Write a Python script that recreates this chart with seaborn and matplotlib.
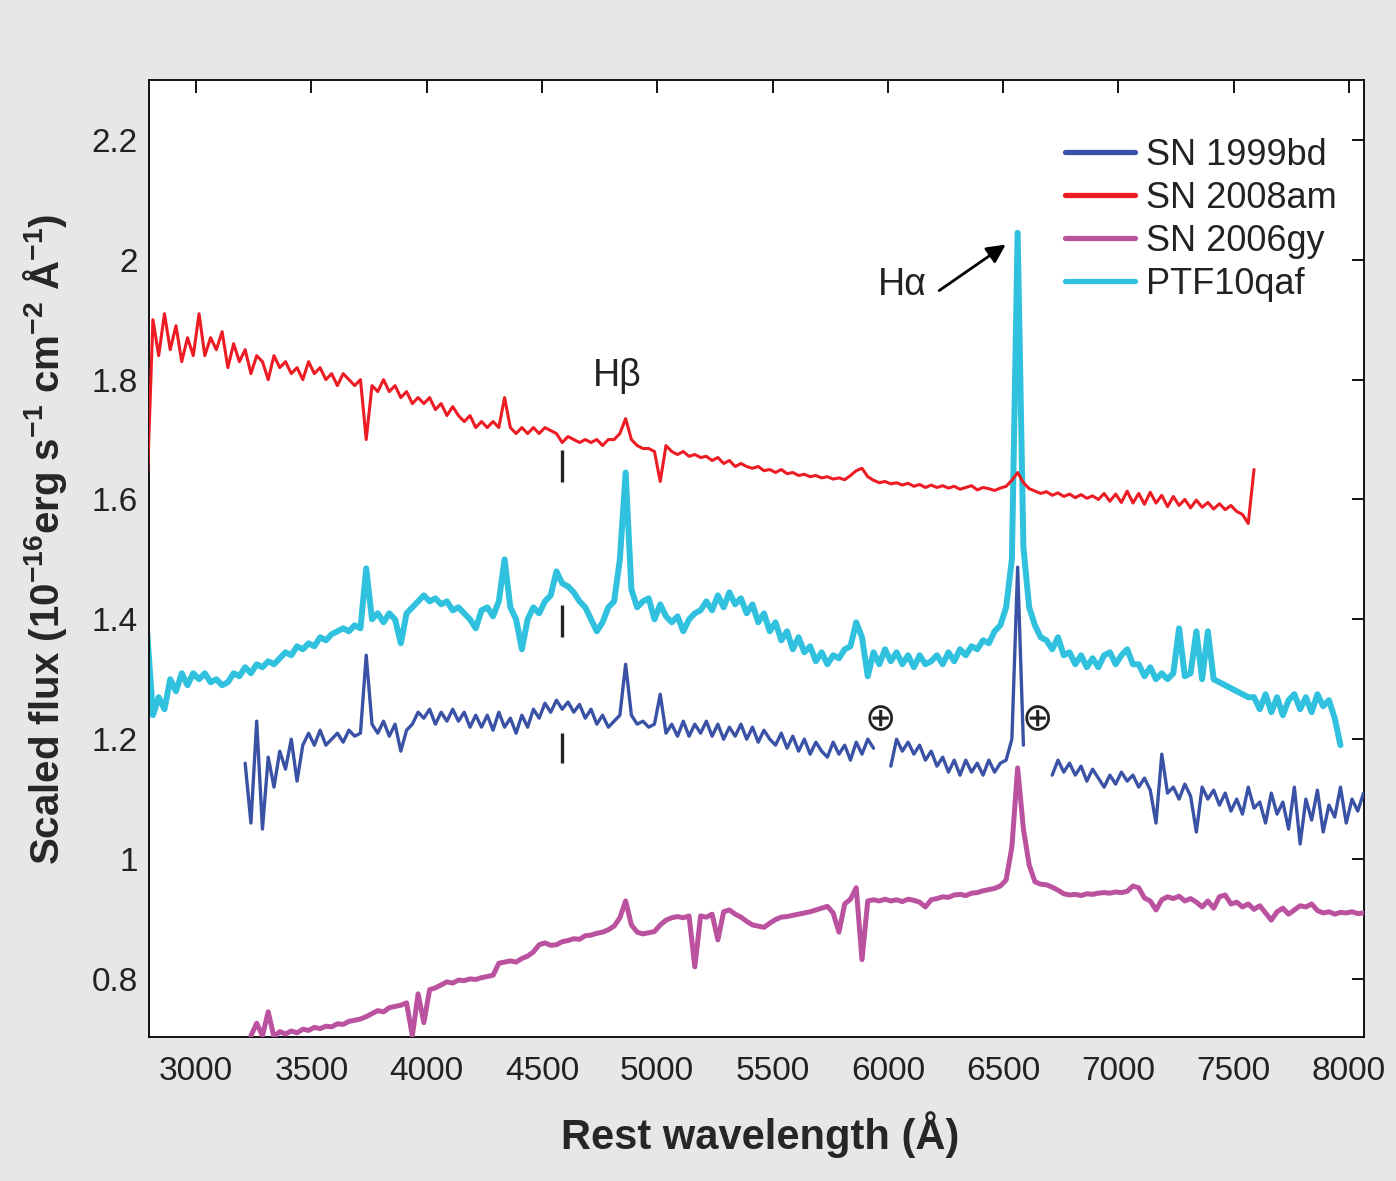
import numpy as np
import pandas as pd
import matplotlib
matplotlib.use("Agg")
import matplotlib.pyplot as plt
import seaborn as sns
from matplotlib.lines import Line2D
from matplotlib.ticker import MultipleLocator, FuncFormatter

# ---------------------------------------------------------------------------
# Spectra, sampled every 25 Å from each series' start wavelength (NaN = gap)
# ---------------------------------------------------------------------------
STEP = 25.0

SN2008AM_START = 2788.0
SN2008AM_FLUX = [
    1.62, 1.90, 1.84, 1.91, 1.85, 1.89, 1.83, 1.87,          # 2788
    1.84, 1.91, 1.84, 1.87, 1.85, 1.88, 1.82, 1.86,          # 2988
    1.83, 1.85, 1.81, 1.84, 1.83, 1.80, 1.84, 1.82,          # 3188
    1.83, 1.81, 1.82, 1.80, 1.83, 1.81, 1.82, 1.80,          # 3388
    1.81, 1.79, 1.81, 1.80, 1.79, 1.80, 1.70, 1.79,          # 3588
    1.78, 1.80, 1.78, 1.79, 1.77, 1.78, 1.76, 1.77,          # 3788
    1.76, 1.77, 1.75, 1.76, 1.74, 1.755, 1.74, 1.73,         # 3988
    1.74, 1.72, 1.73, 1.72, 1.73, 1.72, 1.77, 1.72,          # 4188
    1.71, 1.72, 1.71, 1.72, 1.71, 1.72, 1.715, 1.71,         # 4388
    1.695, 1.705, 1.70, 1.695, 1.70, 1.695, 1.70, 1.69,      # 4588
    1.70, 1.70, 1.71, 1.735, 1.70, 1.69, 1.685, 1.685,       # 4788
    1.68, 1.63, 1.69, 1.68, 1.675, 1.68, 1.672, 1.675,       # 4988
    1.67, 1.672, 1.665, 1.67, 1.66, 1.665, 1.655, 1.66,      # 5188
    1.655, 1.652, 1.655, 1.648, 1.65, 1.645, 1.65, 1.643,    # 5388
    1.645, 1.64, 1.642, 1.638, 1.64, 1.636, 1.638, 1.634,    # 5588
    1.636, 1.633, 1.64, 1.648, 1.652, 1.638, 1.632, 1.628,   # 5788
    1.63, 1.626, 1.628, 1.624, 1.627, 1.622, 1.625, 1.62,    # 5988
    1.624, 1.62, 1.623, 1.619, 1.622, 1.617, 1.62, 1.623,    # 6188
    1.616, 1.62, 1.618, 1.615, 1.619, 1.622, 1.632, 1.645,   # 6388
    1.628, 1.618, 1.614, 1.61, 1.613, 1.607, 1.611, 1.605,   # 6588
    1.609, 1.603, 1.608, 1.602, 1.606, 1.60, 1.61, 1.597,    # 6788
    1.609, 1.595, 1.614, 1.594, 1.61, 1.592, 1.612, 1.594,   # 6988
    1.607, 1.588, 1.605, 1.59, 1.60, 1.586, 1.599, 1.587,    # 7188
    1.595, 1.584, 1.593, 1.583, 1.59, 1.58, 1.575, 1.56,     # 7388
    1.65,                                                    # 7588
]

PTF10QAF_START = 2788.0
PTF10QAF_FLUX = [
    1.38, 1.24, 1.27, 1.25, 1.30, 1.28, 1.31, 1.29,          # 2788
    1.31, 1.30, 1.31, 1.295, 1.30, 1.29, 1.295, 1.31,        # 2988
    1.305, 1.32, 1.31, 1.325, 1.32, 1.33, 1.325, 1.335,      # 3188
    1.345, 1.34, 1.355, 1.35, 1.36, 1.355, 1.37, 1.365,      # 3388
    1.375, 1.38, 1.385, 1.38, 1.39, 1.385, 1.485, 1.40,      # 3588
    1.41, 1.395, 1.41, 1.40, 1.36, 1.41, 1.42, 1.43,         # 3788
    1.44, 1.43, 1.435, 1.425, 1.43, 1.415, 1.42, 1.41,       # 3988
    1.40, 1.385, 1.415, 1.42, 1.405, 1.43, 1.50, 1.42,       # 4188
    1.40, 1.35, 1.40, 1.42, 1.41, 1.43, 1.44, 1.48,          # 4388
    1.46, 1.455, 1.445, 1.43, 1.42, 1.40, 1.38, 1.395,       # 4588
    1.42, 1.43, 1.50, 1.645, 1.45, 1.42, 1.43, 1.435,        # 4788
    1.40, 1.425, 1.405, 1.395, 1.405, 1.38, 1.40, 1.41,      # 4988
    1.415, 1.43, 1.415, 1.44, 1.42, 1.445, 1.425, 1.435,     # 5188
    1.41, 1.425, 1.395, 1.41, 1.38, 1.395, 1.365, 1.38,      # 5388
    1.35, 1.37, 1.345, 1.355, 1.33, 1.345, 1.325, 1.34,      # 5588
    1.335, 1.35, 1.355, 1.395, 1.37, 1.305, 1.345, 1.325,    # 5788
    1.35, 1.33, 1.345, 1.325, 1.34, 1.32, 1.34, 1.325,       # 5988
    1.33, 1.34, 1.325, 1.345, 1.33, 1.35, 1.34, 1.355,       # 6188
    1.35, 1.365, 1.36, 1.38, 1.39, 1.42, 1.50, 2.045,        # 6388
    1.52, 1.42, 1.39, 1.37, 1.365, 1.35, 1.37, 1.34,         # 6588
    1.345, 1.325, 1.34, 1.32, 1.335, 1.32, 1.34, 1.345,      # 6788
    1.325, 1.34, 1.35, 1.325, 1.325, 1.305, 1.32, 1.30,      # 6988
    1.31, 1.30, 1.31, 1.385, 1.305, 1.31, 1.38, 1.30,        # 7188
    1.38, 1.30, 1.295, 1.29, 1.285, 1.28, 1.275, 1.27,       # 7388
    1.27, 1.25, 1.275, 1.245, 1.27, 1.24, 1.265, 1.275,      # 7588
    1.25, 1.27, 1.245, 1.275, 1.255, 1.265, 1.235, 1.19,     # 7788
]

SN1999BD_START = 3213.0
SN1999BD_FLUX = [
    1.16, 1.06, 1.23, 1.05, 1.17, 1.12, 1.18, 1.15,          # 3213
    1.20, 1.13, 1.19, 1.21, 1.19, 1.215, 1.19, 1.20,         # 3413
    1.21, 1.195, 1.215, 1.205, 1.21, 1.34, 1.225, 1.21,      # 3613
    1.23, 1.205, 1.225, 1.18, 1.215, 1.225, 1.245, 1.235,    # 3813
    1.25, 1.225, 1.245, 1.23, 1.25, 1.23, 1.245, 1.22,       # 4013
    1.24, 1.22, 1.24, 1.215, 1.245, 1.22, 1.235, 1.21,       # 4213
    1.24, 1.22, 1.25, 1.235, 1.26, 1.245, 1.265, 1.25,       # 4413
    1.262, 1.245, 1.258, 1.235, 1.25, 1.225, 1.24, 1.22,     # 4613
    1.23, 1.24, 1.325, 1.24, 1.225, 1.23, 1.22, 1.225,       # 4813
    1.275, 1.21, 1.225, 1.205, 1.23, 1.205, 1.225, 1.21,     # 5013
    1.23, 1.205, 1.225, 1.20, 1.22, 1.205, 1.225, 1.20,      # 5213
    1.22, 1.195, 1.215, 1.20, 1.19, 1.21, 1.185, 1.205,      # 5413
    1.18, 1.20, 1.175, 1.195, 1.18, 1.17, 1.195, 1.175,      # 5613
    1.19, 1.165, 1.195, 1.175, 1.20, 1.185, np.nan, np.nan,  # 5813
    1.155, 1.20, 1.18, 1.195, 1.175, 1.19, 1.165, 1.18,      # 6013
    1.155, 1.17, 1.145, 1.165, 1.14, 1.165, 1.145, 1.16,     # 6213
    1.14, 1.165, 1.145, 1.16, 1.165, 1.20, 1.487, 1.19,      # 6413
    np.nan, np.nan, np.nan, np.nan, 1.14, 1.165, 1.145, 1.16,  # 6613
    1.14, 1.155, 1.13, 1.15, 1.135, 1.12, 1.14, 1.125,       # 6813
    1.145, 1.13, 1.14, 1.12, 1.135, 1.115, 1.06, 1.175,      # 7013
    1.11, 1.12, 1.10, 1.125, 1.105, 1.045, 1.12, 1.10,       # 7213
    1.115, 1.09, 1.11, 1.08, 1.10, 1.075, 1.12, 1.085,       # 7413
    1.095, 1.06, 1.11, 1.075, 1.095, 1.05, 1.12, 1.025,      # 7613
    1.10, 1.065, 1.115, 1.045, 1.09, 1.07, 1.12, 1.06,       # 7813
    1.10, 1.08, 1.11,                                        # 8013
]

SN2006GY_START = 3238.0
SN2006GY_FLUX = [
    0.705, 0.726, 0.705, 0.745, 0.703, 0.712, 0.708, 0.713,  # 3238
    0.71, 0.716, 0.714, 0.719, 0.717, 0.721, 0.72, 0.725,    # 3438
    0.724, 0.729, 0.731, 0.733, 0.737, 0.742, 0.747, 0.745,  # 3638
    0.752, 0.754, 0.756, 0.76, 0.705, 0.775, 0.727, 0.782,   # 3838
    0.785, 0.79, 0.795, 0.793, 0.798, 0.797, 0.80, 0.799,    # 4038
    0.802, 0.804, 0.806, 0.826, 0.828, 0.83, 0.828, 0.834,   # 4238
    0.838, 0.845, 0.857, 0.86, 0.856, 0.857, 0.862, 0.864,   # 4438
    0.867, 0.866, 0.872, 0.873, 0.876, 0.878, 0.882, 0.888,  # 4638
    0.902, 0.93, 0.89, 0.878, 0.875, 0.877, 0.879, 0.89,     # 4838
    0.898, 0.902, 0.904, 0.902, 0.905, 0.82, 0.905, 0.903,   # 5038
    0.908, 0.865, 0.912, 0.915, 0.908, 0.903, 0.896, 0.89,   # 5238
    0.888, 0.886, 0.893, 0.899, 0.903, 0.904, 0.906, 0.908,  # 5438
    0.91, 0.912, 0.915, 0.918, 0.921, 0.91, 0.878, 0.925,    # 5638
    0.933, 0.952, 0.832, 0.93, 0.932, 0.93, 0.933, 0.93,     # 5838
    0.932, 0.929, 0.933, 0.931, 0.928, 0.92, 0.932, 0.934,   # 6038
    0.937, 0.936, 0.94, 0.941, 0.939, 0.943, 0.944, 0.947,   # 6238
    0.949, 0.951, 0.955, 0.965, 1.02, 1.152, 1.05, 0.99,     # 6438
    0.962, 0.958, 0.957, 0.953, 0.948, 0.942, 0.94, 0.941,   # 6638
    0.939, 0.942, 0.941, 0.943, 0.944, 0.943, 0.945, 0.944,  # 6838
    0.946, 0.955, 0.952, 0.935, 0.93, 0.915, 0.932, 0.937,   # 7038
    0.934, 0.938, 0.93, 0.934, 0.928, 0.92, 0.93, 0.918,     # 7238
    0.937, 0.94, 0.925, 0.928, 0.92, 0.925, 0.916, 0.922,    # 7438
    0.91, 0.898, 0.912, 0.918, 0.908, 0.915, 0.922, 0.92,    # 7638
    0.925, 0.914, 0.91, 0.912, 0.908, 0.911, 0.91, 0.912,    # 7838
    0.909, 0.91,                                             # 8038
]

LABELS = ["SN 1999bd", "SN 2008am", "SN 2006gy", "PTF10qaf"]
COLORS = {"SN 1999bd": "#3a52a5", "SN 2008am": "#ed1c24",
          "SN 2006gy": "#bb52a0", "PTF10qaf": "#30c1de"}

# Line identifications and markers
LINE_NAMES = ["Hβ", "Hα"]
LINE_LABEL_POS = [(4826, 1.806), (6062, 1.958)]
HALPHA_ARROW = [(6213, 1.946), (6521, 2.028)]
MARK_WAVE = 4588
MARK_RANGES = [(1.629, 1.682), (1.370, 1.424), (1.160, 1.210)]
TELLURIC_POS = [(5966, 1.232), (6647, 1.232)]

X_TICKS = [3000, 3500, 4000, 4500, 5000, 5500, 6000, 6500, 7000, 7500, 8000]


def spectrum_frame(start, flux):
    f = np.asarray(flux, dtype=float)
    wave = start + STEP * np.arange(f.size)
    seg = np.cumsum(np.isnan(f))
    df = pd.DataFrame({"wave": wave, "flux": f, "segment": seg})
    return df.dropna()


sns.set_theme(style="white")
plt.rcParams.update({
    "font.family": ["Liberation Sans", "DejaVu Sans"],
    "mathtext.fontset": "custom",
    "mathtext.rm": "Liberation Sans",
    "mathtext.bf": "Liberation Sans:bold",
    "mathtext.it": "Liberation Sans:italic",
    "text.color": "#222222",
})

fig = plt.figure(figsize=(13.96, 11.81), dpi=100, facecolor="#e6e7e8")
ax = fig.add_axes([149 / 1396, 1 - 1037 / 1181, (1364 - 149) / 1396, (1037 - 80) / 1181])
ax.set_facecolor("white")

series = [
    ("PTF10qaf", PTF10QAF_START, PTF10QAF_FLUX, 4.3, 2),
    ("SN 2008am", SN2008AM_START, SN2008AM_FLUX, 2.2, 3),
    ("SN 2006gy", SN2006GY_START, SN2006GY_FLUX, 3.6, 4),
    ("SN 1999bd", SN1999BD_START, SN1999BD_FLUX, 2.4, 5),
]
for name, start, flux, lw, z in series:
    df = spectrum_frame(start, flux)
    sns.lineplot(data=df, x="wave", y="flux", units="segment", estimator=None,
                 sort=False, color=COLORS[name], linewidth=lw, ax=ax,
                 legend=False, zorder=z)

ax.set_xlim(2796, 8065)
ax.set_ylim(0.703, 2.300)
ax.set_xticks(X_TICKS)
ax.yaxis.set_major_locator(MultipleLocator(0.2))
ax.yaxis.set_major_formatter(FuncFormatter(lambda v, p: f"{round(v, 1):g}"))

for sp in ax.spines.values():
    sp.set_color("black")
    sp.set_linewidth(1.3)
ax.tick_params(direction="in", length=9, width=1.3, top=True, right=True,
               labelsize=24, pad=8, color="black", labelcolor="#222222")
ax.tick_params(axis="x", pad=14)

ax.set_xlabel("Rest wavelength (Å)", fontsize=30, fontweight="bold")
ax.xaxis.set_label_coords(0.503, -0.077)
ax.set_ylabel(r"Scaled flux (10$^{\mathbf{-16}}$erg s$^{\mathbf{-1}}$ cm$^{\mathbf{-2}}$ Å$^{\mathbf{-1}}$)",
              fontsize=29, fontweight="bold")
ax.yaxis.set_label_coords(-0.066, 0.52)

# Line identifications
for name, (xw, yf) in zip(LINE_NAMES, LINE_LABEL_POS):
    ax.text(xw, yf, name, ha="center", va="center", fontsize=27, zorder=6)
ax.annotate("", xy=HALPHA_ARROW[1], xytext=HALPHA_ARROW[0],
            arrowprops=dict(arrowstyle="-|>", color="black", lw=2,
                            mutation_scale=28), zorder=6)
for lo, hi in MARK_RANGES:
    ax.vlines(MARK_WAVE, lo, hi, color="#222222", lw=2.4, zorder=6)
for xw, yf in TELLURIC_POS:
    ax.text(xw, yf, "⊕", ha="center", va="center", fontsize=27,
            family="DejaVu Sans", color="#222222", zorder=6)

handles = [Line2D([0], [0], color=COLORS[n], lw=3.8) for n in LABELS]
leg = ax.legend(handles, LABELS, loc="upper left",
                bbox_to_anchor=((1065 - 149) / 1215, (1037 - 138) / 957),
                frameon=False, fontsize=26, handlelength=1.94, handletextpad=0.3,
                labelspacing=0.22, borderpad=0, borderaxespad=0)

fig.savefig("out.png", dpi=100, facecolor=fig.get_facecolor())
